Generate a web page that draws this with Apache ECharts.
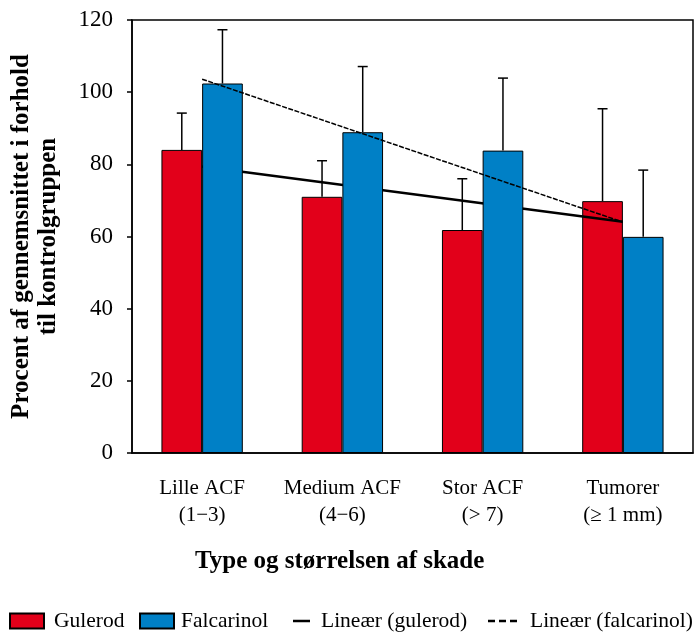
<!DOCTYPE html>
<html>
<head>
<meta charset="utf-8">
<script src="https://cdn.jsdelivr.net/npm/echarts@6/dist/echarts.min.js"></script>
<style>
  html, body { margin: 0; padding: 0; background: #fff; }
  #chart { width: 698px; height: 633px; }
</style>
</head>
<body>
<div id="chart"></div>
<script>
// data
var categories = ['Lille ACF\n(1\u22123)', 'Medium ACF\n(4\u22126)', 'Stor ACF\n(> 7)', 'Tumorer\n(\u2265 1 mm)'];
var gulerod = [84, 71, 61.8, 69.8];
var gulerodUpper = [94.2, 81, 76, 95.4];
var falcarinol = [102.4, 88.9, 83.8, 59.9];
var falcarinolUpper = [117.3, 107.1, 103.9, 78.4];
// trend line end points (first and last category)
var gulerodTrend = [[0, 79.4], [3, 64.1]];
var falcarinolTrend = [[0, 103.6], [3, 64.0]];
var yTicks = { min: 0, max: 120, step: 20 };

var serif = 'Liberation Serif';
var RED = '#E2001A';
var BLUE = '#0080C6';
var BAR_FRAC = 0.29;

function errData(vals, upper) {
    var out = [];
    for (var i = 0; i < vals.length; i++) {
        out.push([i, upper[i], vals[i]]);
    }
    return out;
}

//误差线
function errorBar(side) {
    return function (params, api) {
        var cat = api.value(0);
        var top = api.coord([cat, api.value(1)]);
        var base = api.coord([cat, api.value(2)]);
        var w = api.size([1, 0])[0] * BAR_FRAC;
        var x = top[0] + side * w / 2;
        var cap = 5;
        var st = { stroke: '#000', lineWidth: 1.5 };
        return {
            type: 'group',
            children: [
                { type: 'line', shape: { x1: x, y1: base[1], x2: x, y2: top[1] }, style: st },
                { type: 'line', shape: { x1: x - cap, y1: top[1], x2: x + cap, y2: top[1] }, style: st }
            ]
        };
    };
}

//图例, 每一项单独放
function legendItem(name, left, width, textGap, icon) {
    return {
        left: left,
        bottom: 1,
        padding: 0,
        itemWidth: width,
        itemHeight: 15,
        itemGap: 0,
        selectedMode: false,
        symbolKeepAspect: true,
        data: [{ name: name, icon: icon }],
        textStyle: { fontFamily: serif, fontSize: 21.5, color: '#000', padding: [0, 0, 0, textGap - 5] }
    };
}

var myChart = echarts.init(document.getElementById('chart'));
var option = {
    animation: false,
    grid: {
        left: 128, right: 5, top: 20, bottom: 180,
        show: true, borderColor: '#000', borderWidth: 1.5
    },
    legend: [
        legendItem('Gulerod', 9, 34, 10, 'rect'),
        legendItem('Falcarinol', 139, 34, 7, 'rect'),
        legendItem('Line\u00e6r (gulerod)', 293, 17, 11, 'path://M0,0H17V2.5H0Z'),
        legendItem('Line\u00e6r (falcarinol)', 488, 29, 13,
            'path://M0,0H7V2.5H0Z M11,0H18V2.5H11Z M22,0H29V2.5H22Z')
    ],
    xAxis: {
        type: 'category',
        data: categories,
        axisLine: { lineStyle: { color: '#000', width: 1.5 } },
        axisTick: { length: 5, lineStyle: { color: '#000', width: 1.5 } },
        axisLabel: {
            interval: 0,
            fontFamily: serif, fontSize: 21, color: '#000',
            margin: 22, lineHeight: 27
        }
    },
    yAxis: {
        type: 'value',
        min: yTicks.min, max: yTicks.max, interval: yTicks.step,
        name: 'Procent af gennemsnittet i forhold\ntil kontrolgruppen',
        nameLocation: 'middle',
        nameGap: 70,
        nameTextStyle: {
            fontFamily: serif, fontSize: 25, fontWeight: 'bold', color: '#000',
            lineHeight: 27, align: 'center'
        },
        splitLine: { show: false },
        axisLine: { show: true, lineStyle: { color: '#000', width: 1.5 } },
        axisTick: { show: true, length: 5, lineStyle: { color: '#000', width: 1.5 } },
        axisLabel: { fontFamily: serif, fontSize: 23, color: '#000', margin: 19 }
    },
    graphic: [{
        type: 'text',
        left: 195,
        top: 549,
        style: {
            text: 'Type og st\u00f8rrelsen af skade',
            font: 'bold 25px "Liberation Serif"',
            fill: '#000'
        }
    }],
    series: [
        {
            name: 'Gulerod',
            type: 'bar',
            z: 2,
            data: gulerod,
            barWidth: (BAR_FRAC * 100) + '%',
            barGap: '0%',
            itemStyle: { color: RED, borderColor: '#000', borderWidth: 1 }
        },
        {
            type: 'custom',
            z: 2,
            renderItem: errorBar(-1),
            data: errData(gulerod, gulerodUpper)
        },
        {
            name: 'Line\u00e6r (gulerod)',
            type: 'line',
            z: 3,
            data: gulerodTrend,
            symbol: 'none',
            lineStyle: { color: '#000', width: 2.5 },
            itemStyle: { color: '#000' }
        },
        {
            name: 'Falcarinol',
            type: 'bar',
            z: 4,
            data: falcarinol,
            barWidth: (BAR_FRAC * 100) + '%',
            barGap: '0%',
            itemStyle: { color: BLUE, borderColor: '#000', borderWidth: 1 }
        },
        {
            type: 'custom',
            z: 4,
            renderItem: errorBar(1),
            data: errData(falcarinol, falcarinolUpper)
        },
        {
            name: 'Line\u00e6r (falcarinol)',
            type: 'line',
            z: 5,
            data: falcarinolTrend,
            symbol: 'none',
            lineStyle: { color: '#000', width: 1.5, type: [5, 1.5] },
            itemStyle: { color: '#000' }
        }
    ]
};
myChart.setOption(option);
</script>
</body>
</html>
